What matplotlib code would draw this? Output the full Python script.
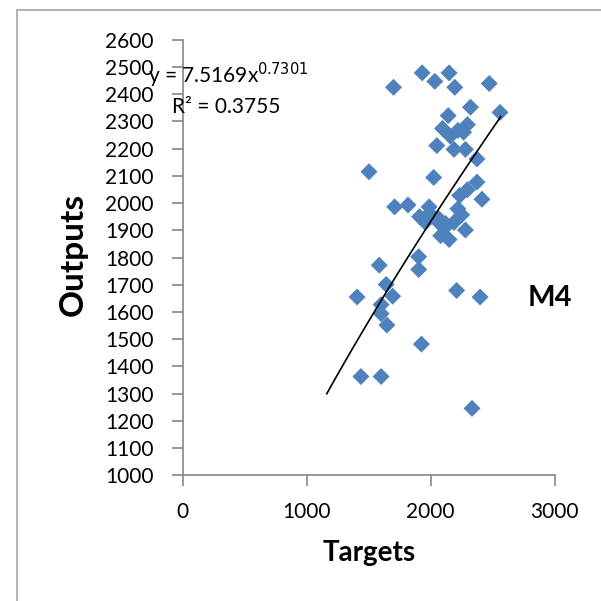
import numpy as np
import matplotlib.pyplot as plt
from matplotlib.patches import Rectangle

plt.rcParams['font.family'] = ['Lato', 'DejaVu Sans']

# targets / outputs
targets = [1931, 2148, 2033, 2194, 1700, 2472, 2321, 2559, 2141, 2095,
           2219, 2296, 2157, 2049, 2188, 2280, 2373, 1502, 2024, 2373,
           2296, 2234, 2413, 1709, 1817, 1987, 1910, 1956, 2049, 2110,
           2188, 2250, 2280, 2080, 2148, 2219, 1903, 1903, 1585, 2209,
           2398, 1406, 1641, 1693, 1600, 1600, 1647, 1925, 1437, 1600,
           2333, 2002, 2060, 2120, 2265, 1985]
outputs = [2478, 2478, 2447, 2425, 2425, 2439, 2352, 2333, 2321, 2274,
           2267, 2288, 2246, 2211, 2197, 2197, 2162, 2115, 2094, 2077,
           2049, 2028, 2014, 1986, 1993, 1986, 1950, 1929, 1936, 1908,
           1929, 1957, 1901, 1880, 1866, 1979, 1803, 1756, 1772, 1679,
           1655, 1655, 1701, 1658, 1627, 1594, 1552, 1482, 1363, 1363,
           1246, 1957, 1945, 1925, 2260, 1960]

# power trendline y = a x^b
a, b = 7.5169, 0.7301
r2 = 0.3755
trend_x = np.linspace(1162, 2565, 100)
trend_y = a * trend_x ** b

xticks = [0, 1000, 2000, 3000]
yticks = list(range(1000, 2700, 100))

fig = plt.figure(figsize=(6.01, 6.01), dpi=100)
fig.patches.append(Rectangle((17 / 601, -0.1), 1.2, 1.1 - 10 / 601,
                             transform=fig.transFigure, fill=False,
                             edgecolor='#a6a6a6', linewidth=1.2))
ax = fig.add_axes([0.304, 0.209, 0.619, 0.725])

ax.scatter(targets, outputs, marker='D', s=75, color='#4F81BD',
           edgecolors='none', zorder=3)
ax.plot(trend_x, trend_y, color='black', linewidth=1.2, zorder=4)

ax.set_xlim(0, 3000)
ax.set_ylim(1000, 2600)
ax.set_xticks(xticks)
ax.set_yticks(yticks)
ax.tick_params(axis='y', direction='out', length=8, width=1.2,
               color='#868686', labelsize=15, pad=13)
ax.tick_params(axis='x', direction='out', length=8, width=1.2,
               color='#868686', labelsize=15, pad=11)
for side in ['top', 'right']:
    ax.spines[side].set_visible(False)
for side in ['left', 'bottom']:
    ax.spines[side].set_color('#868686')
    ax.spines[side].set_linewidth(1.2)

fig.text(369 / 601, 1 - 553 / 601, 'Targets', fontsize=20,
         fontweight='bold', ha='center', va='center')
fig.text(73 / 601, 1 - 254 / 601, 'Outputs', fontsize=24,
         fontweight='bold', ha='center', va='center', rotation=90)
fig.text(550 / 601, 1 - 298 / 601, 'M4', fontsize=21,
         fontweight='bold', ha='center', va='center')

fig.text(148 / 601, 1 - 75 / 601, 'y = %.4fx$^{%.4f}$' % (a, b),
         fontsize=15, ha='left', va='center')
fig.text(172 / 601, 1 - 107 / 601, 'R² = %.4f' % r2,
         fontsize=15, ha='left', va='center')

fig.savefig('out.png', dpi=100)
